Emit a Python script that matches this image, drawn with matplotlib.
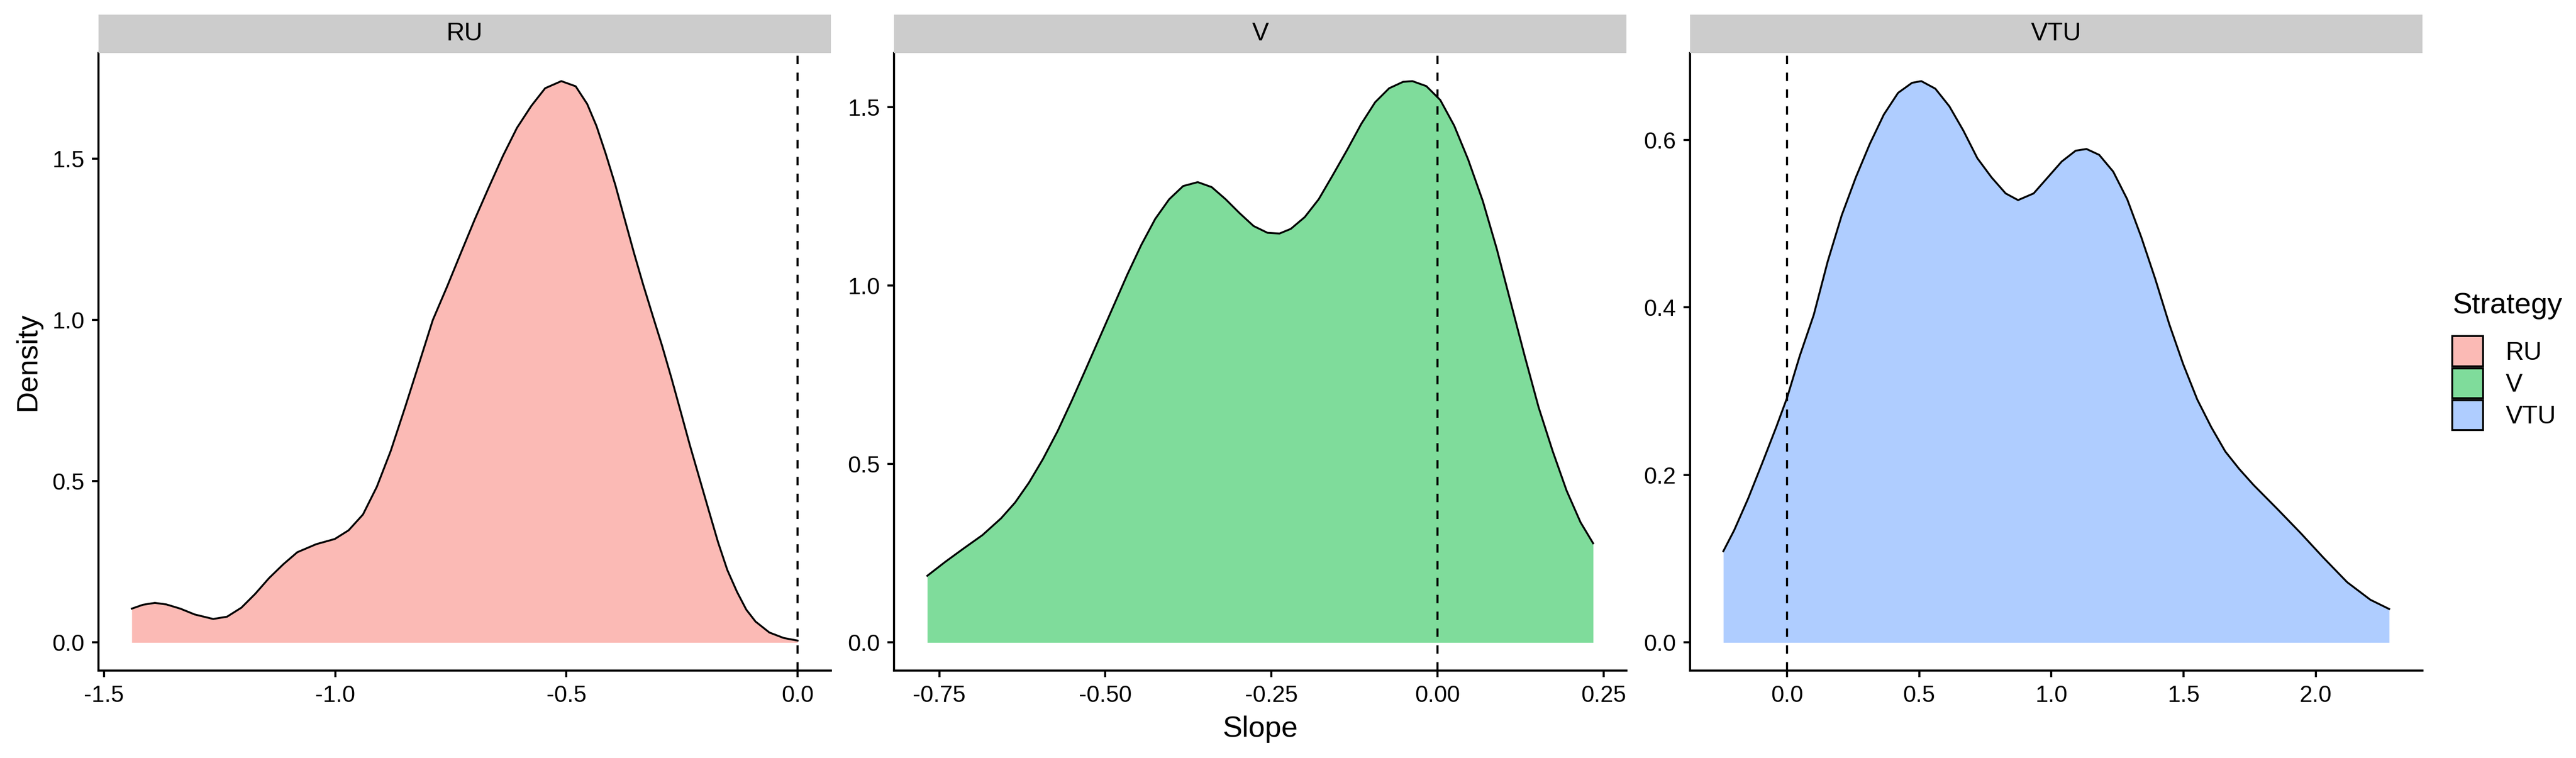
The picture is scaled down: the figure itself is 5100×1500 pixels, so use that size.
import matplotlib
matplotlib.use("Agg")
import matplotlib.pyplot as plt
from matplotlib.patches import Patch
from matplotlib.colors import to_rgba

plt.rcParams['font.family'] = ['Liberation Sans', 'DejaVu Sans']
plt.rcParams['axes.unicode_minus'] = False

# Strategy groups and their fill colours (ggplot hues, alpha 0.5)
strategies = ['RU', 'V', 'VTU']
colors = ['#F8766D', '#00BA38', '#619CFF']

# density curves
ru_x = [-1.440, -1.416, -1.390, -1.365, -1.335, -1.304, -1.264, -1.234, -1.203, -1.173,
        -1.143, -1.112, -1.082, -1.041, -1.001, -0.971, -0.940, -0.910, -0.880, -0.849,
        -0.819, -0.789, -0.758, -0.728, -0.698, -0.668, -0.637, -0.607, -0.576, -0.546,
        -0.511, -0.480, -0.455, -0.435, -0.415, -0.394, -0.374, -0.354, -0.334, -0.313,
        -0.293, -0.273, -0.253, -0.233, -0.212, -0.192, -0.172, -0.152, -0.131, -0.111,
        -0.091, -0.061, -0.030, 0.000]
ru_y = [0.105, 0.117, 0.123, 0.118, 0.105, 0.087, 0.073, 0.080, 0.108, 0.151,
        0.200, 0.243, 0.280, 0.305, 0.321, 0.348, 0.397, 0.483, 0.594, 0.729,
        0.864, 1.000, 1.104, 1.209, 1.313, 1.411, 1.510, 1.596, 1.664, 1.719,
        1.741, 1.725, 1.670, 1.602, 1.516, 1.418, 1.313, 1.209, 1.110, 1.012,
        0.920, 0.821, 0.717, 0.612, 0.508, 0.409, 0.311, 0.225, 0.157, 0.102,
        0.065, 0.031, 0.014, 0.006]

v_x = [-0.768, -0.741, -0.713, -0.685, -0.657, -0.636, -0.615, -0.594, -0.572, -0.551,
       -0.530, -0.509, -0.488, -0.467, -0.446, -0.425, -0.404, -0.383, -0.361, -0.340,
       -0.319, -0.298, -0.277, -0.256, -0.238, -0.221, -0.200, -0.179, -0.158, -0.136,
       -0.115, -0.094, -0.073, -0.052, -0.038, -0.017, 0.004, 0.025, 0.046, 0.068,
       0.089, 0.110, 0.131, 0.152, 0.173, 0.194, 0.215, 0.234]
v_y = [0.187, 0.226, 0.264, 0.301, 0.348, 0.392, 0.448, 0.514, 0.592, 0.676,
       0.764, 0.853, 0.942, 1.031, 1.114, 1.187, 1.242, 1.279, 1.290, 1.276,
       1.242, 1.203, 1.167, 1.148, 1.146, 1.159, 1.192, 1.242, 1.309, 1.381,
       1.453, 1.514, 1.553, 1.571, 1.573, 1.559, 1.520, 1.448, 1.353, 1.237,
       1.103, 0.953, 0.803, 0.659, 0.537, 0.426, 0.337, 0.278]

vtu_x = [-0.241, -0.200, -0.147, -0.094, -0.041, 0.000, 0.048, 0.101, 0.154, 0.207,
         0.260, 0.313, 0.366, 0.420, 0.473, 0.508, 0.561, 0.614, 0.667, 0.720,
         0.774, 0.827, 0.874, 0.933, 0.986, 1.039, 1.092, 1.133, 1.181, 1.234,
         1.287, 1.340, 1.393, 1.446, 1.499, 1.552, 1.605, 1.658, 1.711, 1.765,
         1.853, 1.942, 2.030, 2.119, 2.207, 2.278]
vtu_y = [0.109, 0.134, 0.172, 0.214, 0.257, 0.292, 0.342, 0.391, 0.455, 0.510,
         0.555, 0.595, 0.630, 0.656, 0.668, 0.670, 0.661, 0.640, 0.611, 0.578,
         0.555, 0.536, 0.528, 0.536, 0.555, 0.574, 0.587, 0.589, 0.582, 0.562,
         0.529, 0.484, 0.434, 0.380, 0.332, 0.290, 0.257, 0.228, 0.207, 0.188,
         0.160, 0.131, 0.101, 0.072, 0.051, 0.040]

curves = [(ru_x, ru_y), (v_x, v_y), (vtu_x, vtu_y)]
xticks = [[-1.5, -1.0, -0.5, 0.0],
          [-0.75, -0.50, -0.25, 0.00, 0.25],
          [0.0, 0.5, 1.0, 1.5, 2.0]]
xfmt = ['%.1f', '%.2f', '%.1f']
yticks = [[0.0, 0.5, 1.0, 1.5],
          [0.0, 0.5, 1.0, 1.5],
          [0.0, 0.2, 0.4, 0.6]]

fig = plt.figure(figsize=(17, 5), dpi=300)

W, H = 5100.0, 1500.0
lefts = [195, 1770, 3346]
pw = 1450
ax_top, ax_bot = 105, 1327
strip_top = 29

for i, name in enumerate(strategies):
    x, y = curves[i]
    ax = fig.add_axes([lefts[i] / W, 1 - ax_bot / H, pw / W, (ax_bot - ax_top) / H])
    ax.fill_between(x, y, 0, color=colors[i], alpha=0.5, linewidth=0)
    ax.plot(x, y, color='black', lw=0.9, solid_joinstyle='round')
    ax.axvline(0, color='black', lw=1.0, linestyle=(0, (4, 4)))

    # ggplot-like 5% expansion, vline included
    lo, hi = min(min(x), 0), max(max(x), 0)
    pad = (hi - lo) * 0.05
    ax.set_xlim(lo - pad, hi + pad)
    top = max(y)
    ax.set_ylim(-top * 0.05, top * 1.05)

    ax.set_xticks(xticks[i])
    ax.set_xticklabels([xfmt[i] % t for t in xticks[i]])
    ax.set_yticks(yticks[i])
    ax.set_yticklabels(['%.1f' % t for t in yticks[i]])
    ax.tick_params(labelsize=11, length=3.2, width=1.0, pad=3.5, colors='black')
    for s in ['top', 'right']:
        ax.spines[s].set_visible(False)
    for s in ['left', 'bottom']:
        ax.spines[s].set_linewidth(1.0)

    # facet strip
    sax = fig.add_axes([lefts[i] / W, 1 - ax_top / H, pw / W, (ax_top - strip_top) / H])
    sax.set_facecolor('#CCCCCC')
    sax.set_xticks([])
    sax.set_yticks([])
    for s in sax.spines.values():
        s.set_visible(False)
    sax.text(0.5, 0.5, name, ha='center', va='center', fontsize=12, transform=sax.transAxes)

    if i == 0:
        ax.set_ylabel('Density', fontsize=14, labelpad=5)
    if i == 1:
        ax.set_xlabel('Slope', fontsize=14, labelpad=4)

handles = [Patch(facecolor=to_rgba(c, 0.5), edgecolor='black', linewidth=0.9) for c in colors]
leg = fig.legend(handles, strategies, title='Strategy', loc='upper left',
                 bbox_to_anchor=(4855 / W, 1 - 578 / H), frameon=False, fontsize=12,
                 title_fontsize=14, handlelength=1.22, handleheight=1.45, labelspacing=0.08,
                 handletextpad=0.9, borderpad=0, borderaxespad=0, alignment='left')
leg._legend_box.sep = 8

fig.savefig('out.png', dpi=300)
